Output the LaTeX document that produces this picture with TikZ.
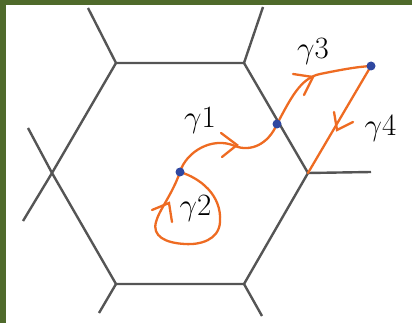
\RequirePackage{fix-cm}
\documentclass[tikz,border=0pt]{standalone}
\usetikzlibrary{calc}
\definecolor{frame}{HTML}{4F6A2B}
\definecolor{edge}{HTML}{555555}
\definecolor{path}{HTML}{EE6B22}
\definecolor{dot}{HTML}{2F47A0}
\tikzset{
  lattice/.style={draw=edge, line width=2.4pt},
  orbit/.style={draw=path, line width=2.3pt, line cap=round, line join=round},
  chev/.style={draw=path, line width=2.3pt, line cap=round, line join=miter},
  lbl/.style={inner sep=0pt, anchor=base, font=\fontsize{31}{36}\selectfont},
  pt/.style={fill=dot}
}
\begin{document}
\begin{tikzpicture}[x=1pt,y=-1pt]
\useasboundingbox (0,0) rectangle (412,323);
\fill[frame] (0,0) rectangle (6,323);
\fill[frame] (0,0) rectangle (412,5);
% hexagon vertices
\coordinate (tl) at (116,63);
\coordinate (tr) at (244,63);
\coordinate (r) at (308,173);
\coordinate (br) at (244,284);
\coordinate (bl) at (116,284);
\coordinate (l) at (52,173);
% outer ends
\coordinate (tlo) at (88,8);
\coordinate (tro) at (263,7);
\coordinate (ro) at (371,172);
\coordinate (bro) at (262,316);
\coordinate (blo) at (99,313);
\coordinate (lu) at (28,128);
\coordinate (ld) at (23,221);
\draw[lattice] (tl) -- (tr) -- (r) -- (br) -- (bl) -- (l) -- cycle;
\draw[lattice] (tl) -- (tlo);
\draw[lattice] (tr) -- (tro);
\draw[lattice] (r) -- (ro);
\draw[lattice] (br) -- (bro);
\draw[lattice] (bl) -- (blo);
\draw[lattice] (l) -- (lu);
\draw[lattice] (l) -- (ld);
% points
\coordinate (d1) at (180,172);
\coordinate (d2) at (277,124);
\coordinate (d3) at (371,66);
% gamma 1
\draw[orbit] (d1) .. controls (186,152) and (212,136) .. (235,146)
  .. controls (250,152) and (268,145) .. (d2);
\draw[chev] (221,133) -- (237,145) -- (222,157);
% gamma 2
\draw[orbit] (d1) .. controls (200,178) and (222,195) .. (220,222)
  .. controls (219,240) and (200,245) .. (185,244)
  .. controls (165,243) and (152,236) .. (156,222)
  .. controls (159,210) and (172,195) .. (d1);
\draw[chev] (152,210) -- (169,203) -- (172,222);
% gamma 3
\draw[orbit] (d2) .. controls (290,100) and (300,78) .. (320,74)
  .. controls (340,70) and (355,67) .. (d3);
\draw[chev] (293,74) -- (313,77) -- (304,95);
% gamma 4
\draw[orbit] (d3) -- (r);
\draw[chev] (334,112) -- (337,130) -- (353,122);
% dots
\fill[pt] (d1) circle (4.5);
\fill[pt] (d2) circle (4.5);
\fill[pt] (d3) circle (4.5);
% labels
\node[lbl] (g1) at (200,127.5) {$\gamma$1};
\node[lbl] (g2) at (195.5,215) {$\gamma$2};
\node[lbl] (g3) at (313,59) {$\gamma$3};
\node[lbl] (g4) at (380.5,136) {$\gamma$4};
\end{tikzpicture}
\end{document}
